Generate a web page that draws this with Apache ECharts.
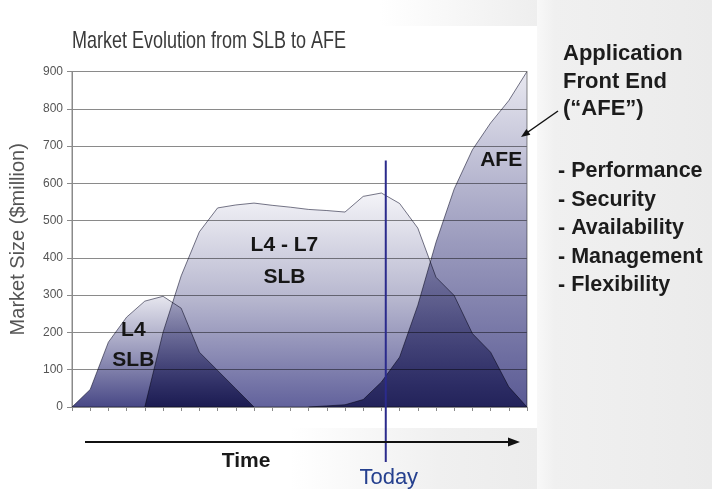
<!DOCTYPE html>
<html>
<head>
<meta charset="utf-8">
<title>Market Evolution from SLB to AFE</title>
<script src="https://cdn.jsdelivr.net/npm/echarts@6/dist/echarts.min.js"></script>
<style>
  html, body { margin: 0; padding: 0; background: #ffffff; }
  #chart { width: 712px; height: 489px; }
</style>
</head>
<body>
<div id="chart"></div>
<script>
// Time periods along the horizontal axis (unlabelled ticks)
const periods = ['P1','P2','P3','P4','P5','P6','P7','P8','P9','P10','P11','P12','P13',
                 'P14','P15','P16','P17','P18','P19','P20','P21','P22','P23','P24','P25','P26'];

// Value axis ticks ($ million)
const yTicks = [0, 100, 200, 300, 400, 500, 600, 700, 800, 900];

// Market size per period ($ million); '-' = no market in that period
const l4Slb   = [0, 47, 174, 241, 284, 297, 265, 147, 98, 49, 0,
                 '-', '-', '-', '-', '-', '-', '-', '-', '-', '-', '-', '-', '-', '-', '-'];
const l4l7Slb = ['-', '-', '-', '-', 0, 200, 352, 470, 534, 542, 547, 541, 536,
                 530, 527, 523, 565, 574, 546, 480, 348, 299, 197, 147, 54, 0];
const afe     = ['-', '-', '-', '-', '-', '-', '-', '-', '-', '-', '-', '-', '-',
                 0, 3, 6, 20, 67, 134, 273, 442, 585, 690, 762, 822, 900];

// Point in time marked as "Today" (period index)
const todayIndex = 17.24;

const FONT = '"Liberation Sans", Arial, Helvetica, sans-serif';

function vGrad(stops) {
  return {
    type: 'linear', x: 0, y: 0, x2: 0, y2: 1,
    colorStops: stops.map(function (s) { return { offset: s[0], color: s[1] }; })
  };
}

function areaSeries(name, values, stops) {
  return {
    name: name,
    type: 'line',
    data: values,
    symbol: 'none',
    connectNulls: false,
    blendMode: 'multiply',
    lineStyle: { color: 'rgba(95,95,115,0.85)', width: 1 },
    areaStyle: { color: vGrad(stops), opacity: 1 },
    emphasis: { disabled: true },
    silent: true
  };
}

const chart = echarts.init(document.getElementById('chart'), null, { renderer: 'canvas' });

chart.setOption({
  animation: false,
  backgroundColor: '#ffffff',
  grid: {
    left: 70, right: 185, top: 71.5, bottom: 82,
    show: true, backgroundColor: '#ffffff',
    borderColor: '#8a8a8a', borderWidth: 1
  },
  xAxis: {
    type: 'category',
    data: periods,
    boundaryGap: false,
    axisLine: { lineStyle: { color: '#8a8a8a', width: 1 } },
    axisTick: { show: true, interval: 0, length: 4, lineStyle: { color: '#8a8a8a' } },
    axisLabel: { show: false },
    splitLine: { show: false }
  },
  yAxis: {
    type: 'value',
    min: yTicks[0],
    max: yTicks[yTicks.length - 1],
    interval: yTicks[1] - yTicks[0],
    name: 'Market Size ($million)',
    nameLocation: 'middle',
    nameRotate: 90,
    nameGap: 44,
    nameTextStyle: { fontSize: 20, color: '#555555', fontFamily: FONT },
    axisLine: { show: true, lineStyle: { color: '#8a8a8a', width: 1 } },
    axisTick: { show: true, length: 5, lineStyle: { color: '#8a8a8a' } },
    axisLabel: { fontSize: 12, color: '#555555', fontFamily: FONT, margin: 9 },
    splitLine: { show: true, lineStyle: { color: '#8a8a8a', width: 1 } }
  },
  series: [
    areaSeries('L4 SLB', l4Slb,
      [[0, '#e6e6ee'], [0.5, '#9a9abc'], [1, '#484886']]),
    areaSeries('L4 - L7 SLB', l4l7Slb,
      [[0, '#f4f4f8'], [0.5, '#b6b6ce'], [1, '#62629c']]),
    areaSeries('AFE', afe,
      [[0, '#e8e8f0'], [0.5, '#9c9cbe'], [1, '#5a5a94']])
  ]
});

// pixel position of a (fractional) period index and a value
function px(i, v) {
  const a = chart.convertToPixel({ gridIndex: 0 }, [0, v]);
  const b = chart.convertToPixel({ gridIndex: 0 }, [1, v]);
  return [a[0] + (b[0] - a[0]) * i, a[1]];
}

function label(text, pos, size, weight, color, align, scaleX) {
  return {
    type: 'text', x: pos[0], y: pos[1], z: 100,
    scaleX: scaleX || 1,
    style: {
      text: text, fontSize: size, fontWeight: weight, fontFamily: FONT,
      fill: color, align: align || 'center', verticalAlign: 'middle'
    },
    silent: true
  };
}

const todayTop = px(todayIndex, 661);
const todayX = todayTop[0];

// Series captions anchored in data space
const seriesNotes = [
  { text: 'L4',      at: [3.37, 206] },
  { text: 'SLB',     at: [3.37, 125] },
  { text: 'L4 - L7', at: [11.67, 433] },
  { text: 'SLB',     at: [11.67, 349] },
  { text: 'AFE',     at: [23.58, 661] }
];

const afeHeader = ['Application', 'Front End', '(\u201CAFE\u201D)'];
const afeTraits = ['- Performance', '- Security', '- Availability', '- Management', '- Flexibility'];

const graphics = [];

// slide backdrop on the right and along the bottom
graphics.push({
  type: 'rect', z: -5, silent: true,
  shape: { x: 537, y: 0, width: 175, height: 489 },
  style: { fill: { type: 'linear', x: 0, y: 0, x2: 1, y2: 0,
    colorStops: [{ offset: 0, color: '#f8f8f8' }, { offset: 0.1, color: '#f0f0f0' }, { offset: 1, color: '#ebebeb' }] } }
});
graphics.push({
  type: 'rect', z: -5, silent: true,
  shape: { x: 290, y: 428, width: 247, height: 61 },
  style: { fill: { type: 'linear', x: 0, y: 0, x2: 1, y2: 0,
    colorStops: [{ offset: 0, color: '#ffffff' }, { offset: 0.6, color: '#f0f0f0' }, { offset: 1, color: '#ececec' }] } }
});
graphics.push({
  type: 'rect', z: -5, silent: true,
  shape: { x: 380, y: 0, width: 157, height: 26 },
  style: { fill: { type: 'linear', x: 0, y: 0, x2: 1, y2: 0,
    colorStops: [{ offset: 0, color: '#ffffff' }, { offset: 1, color: '#eeeeee' }] } }
});

// title
graphics.push(label('Market Evolution from SLB to AFE', [72, 41], 24, 'normal', '#3a3a3a', 'left', 0.75));

// captions on the areas
seriesNotes.forEach(function (n) {
  graphics.push(label(n.text, px(n.at[0], n.at[1]), 21, 'bold', '#161616', 'center'));
});

// "Today" marker line
graphics.push({
  type: 'line', z: 90, silent: true,
  shape: { x1: todayX, y1: todayTop[1], x2: todayX, y2: 462 },
  style: { stroke: '#2b2b8c', lineWidth: 2 }
});
graphics.push(label('Today', [todayX + 3, 478], 22, 'normal', '#25408f', 'center'));

// time arrow
graphics.push({
  type: 'line', z: 90, silent: true,
  shape: { x1: 85, y1: 442, x2: 510, y2: 442 },
  style: { stroke: '#111111', lineWidth: 2 }
});
graphics.push({
  type: 'polygon', z: 90, silent: true,
  shape: { points: [[520, 442], [508, 437.5], [508, 446.5]] },
  style: { fill: '#111111' }
});
graphics.push(label('Time', [246, 461], 21, 'bold', '#1a1a1a', 'center'));

// right-hand description
afeHeader.forEach(function (t, k) {
  graphics.push(label(t, [563, 54 + k * 27.5], 22, 'bold', '#1c1c1c', 'left'));
});
afeTraits.forEach(function (t, k) {
  graphics.push(label(t, [558, 171 + k * 28.6], 21.5, 'bold', '#1c1c1c', 'left'));
});

// pointer from the description to the AFE area
graphics.push({
  type: 'line', z: 90, silent: true,
  shape: { x1: 558, y1: 111, x2: 528, y2: 132 },
  style: { stroke: '#111111', lineWidth: 1.5 }
});
graphics.push({
  type: 'polygon', z: 90, silent: true,
  shape: { points: [[521, 137], [530.4, 134.7], [526.4, 128.9]] },
  style: { fill: '#111111' }
});

chart.setOption({ graphic: { elements: graphics } });
</script>
</body>
</html>
